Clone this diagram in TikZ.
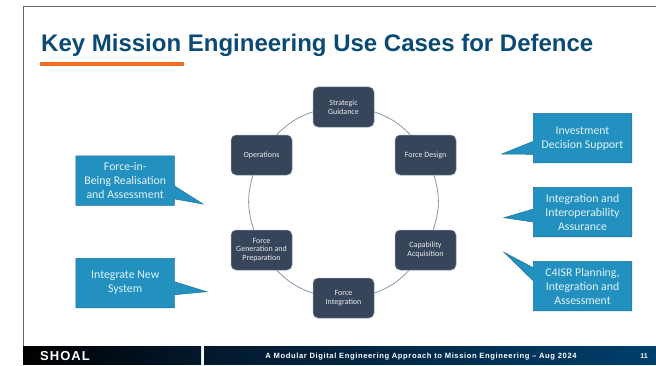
\documentclass[tikz,border=0pt]{standalone}
\usepackage{fontspec}
\usetikzlibrary{shapes.callouts}
\setmainfont{Carlito}
\newfontfamily\titlefont{Liberation Sans}
\newfontfamily\footfont[LetterSpace=8]{Liberation Sans}
\definecolor{stagefill}{HTML}{36455A}
\definecolor{stageline}{HTML}{8A97A8}
\definecolor{calloutfill}{HTML}{2391C0}
\definecolor{calloutline}{HTML}{1F7199}
\definecolor{callouttext}{HTML}{E3F2F8}
\definecolor{titleblue}{HTML}{0B4A75}
\definecolor{accent}{HTML}{F26F21}
\definecolor{footdark}{HTML}{02182C}
\definecolor{footblue}{HTML}{003F6C}
\tikzset{
  stage node/.style={draw=stageline,fill=stagefill,rounded corners=5pt,line width=.5pt,
    minimum width=61pt,minimum height=40pt,inner sep=0pt,align=center,text=white!90!stagefill,
    font=\fontsize{8}{8.7}\selectfont},
  use case/.style={rectangle callout,draw=calloutline,fill=calloutfill,line width=.5pt,
    minimum width=98.5pt,minimum height=49.5pt,inner sep=0pt,align=center,text=callouttext,
    callout pointer width=13pt,font=\fontsize{11.8}{14}\selectfont},
  ring/.style={draw=stageline,line width=.8pt}
}
\begin{document}
\begin{tikzpicture}[x=1pt,y=1pt,node distance=164pt]
  \useasboundingbox (0,0) rectangle (656,365);
  % FRAME
  \fill[white] (0,0) rectangle (656,365);
  \draw[gray!80!black,line width=.8pt] (23.3,18) -- (23.3,358.6) -- (656,358.6);
  % FOOTER
  \node[draw=none,minimum width=178pt,minimum height=18pt,inner sep=0pt,anchor=south west,
    left color=black,right color=footdark] (footleft) at (23,0) {};
  \node[draw=none,minimum width=452pt,minimum height=18pt,inner sep=0pt,anchor=south west,
    left color=footdark,right color=footblue] (footright) at (204,0) {};
  \node[anchor=west,inner sep=0pt,text=white,font=\footfont\bfseries\fontsize{13}{13}\selectfont] (brand) at (40,8.7) {SHOAL};
  \node[text=white,font=\footfont\bfseries\fontsize{7.6}{7.6}\selectfont] (strapline) at (421,8.7)
    {A Modular Digital Engineering Approach to Mission Engineering – Aug 2024};
  \node[text=white,font=\titlefont\bfseries\fontsize{7}{7}\selectfont] (pagenum) at (644,8.7) {11};
  % TITLE
  \node[anchor=base west,inner sep=0pt,text=titleblue,font=\titlefont\bfseries\fontsize{24}{24}\selectfont]
    (title) at (41,313) {Key Mission Engineering Use Cases for Defence};
  \fill[accent] (40,298.7) rectangle (184,302.7);
  % NODES
  \node[stage node] (operations) at (261.5,210) {Operations};
  \node[stage node] (design) [right of=operations] {Force Design};
  \node[stage node] (guidance) at (343.5,258) {Strategic\\Guidance};
  \node[stage node] (generation) [below of=operations,node distance=95pt] {Force\\Generation and\\Preparation};
  \node[stage node] (acquisition) [below of=design,node distance=95pt] {Capability\\Acquisition};
  \node[stage node] (integration) [below of=guidance,node distance=191pt] {Force\\Integration};
  % PATHS
  \path[ring]
   (guidance.-9) edge[bend left=13] (design.127)
   (design.-67) edge[bend left=17] (acquisition.69)
   (acquisition.-129) edge[bend left=13] (integration.9)
   (integration.171) edge[bend left=13] (generation.-53)
   (generation.111) edge[bend left=17] (operations.-113)
   (operations.53) edge[bend left=13] (guidance.189);
  % CALLOUTS
  \node[use case,callout absolute pointer={(501.7,211)}] (investment) at (582.5,226.8) {Investment\\Decision Support};
  \node[use case,callout absolute pointer={(504,147.3)}] (assurance) at (582.5,153) {Integration and\\Interoperability\\Assurance};
  \node[use case,callout absolute pointer={(504,112.7)}] (planning) at (582.5,79) {C4ISR Planning,\\Integration and\\Assessment};
  \node[use case,callout absolute pointer={(203,161)}] (realisation) at (125.2,184.3) {Force-in-\\Being Realisation\\and Assessment};
  \node[use case,callout absolute pointer={(206.7,73.3)}] (newsystem) at (125.2,82) {Integrate New\\System};
\end{tikzpicture}
\end{document}
